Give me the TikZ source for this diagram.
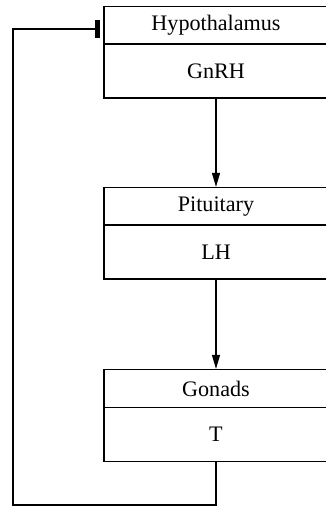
\documentclass[tikz,border=0pt]{standalone}
\usepackage{fontspec}
\setmainfont{Liberation Serif}
\usetikzlibrary{arrows.meta}
\begin{document}
\begin{tikzpicture}[x=0.75pt,y=-0.75pt,
  title/.style={draw,line width=0.9pt,minimum width=168pt,minimum height=28.5pt,inner sep=0pt,font=\fontsize{16.6}{19}\selectfont},
  body/.style={draw,line width=0.9pt,minimum width=168pt,minimum height=40.5pt,inner sep=0pt,font=\fontsize{16.6}{19}\selectfont},
  conn/.style={line width=0.9pt},
  arr/.style={conn,-{Triangle[length=10.5pt,width=6pt]}}]
\useasboundingbox (0,0) rectangle (325,507);
\node[title] (hypt) at (216,25.5) {Hypothalamus};
\node[body] (hypb) at (216,71) {GnRH};
\node[title] (pitt) at (216,206.5) {Pituitary};
\node[body] (pitb) at (216,252) {LH};
\node[title] (gont) at (216,388.5) {Gonads};
\node[body] (gonb) at (216,434.5) {T};
\coordinate (c1) at (216,505);
\coordinate (c2) at (13,505);
\coordinate (c3) at (13,29);
\draw[arr] (hypb.south) -- (pitt.north);
\draw[arr] (pitb.south) -- (gont.north);
\draw[conn,-{Bar[width=13.5pt,line width=4pt]},shorten >=2.25pt] (gonb.south) -- (c1) -- (c2) -- (c3) -- (c3 -| hypt.west);
\end{tikzpicture}
\end{document}
